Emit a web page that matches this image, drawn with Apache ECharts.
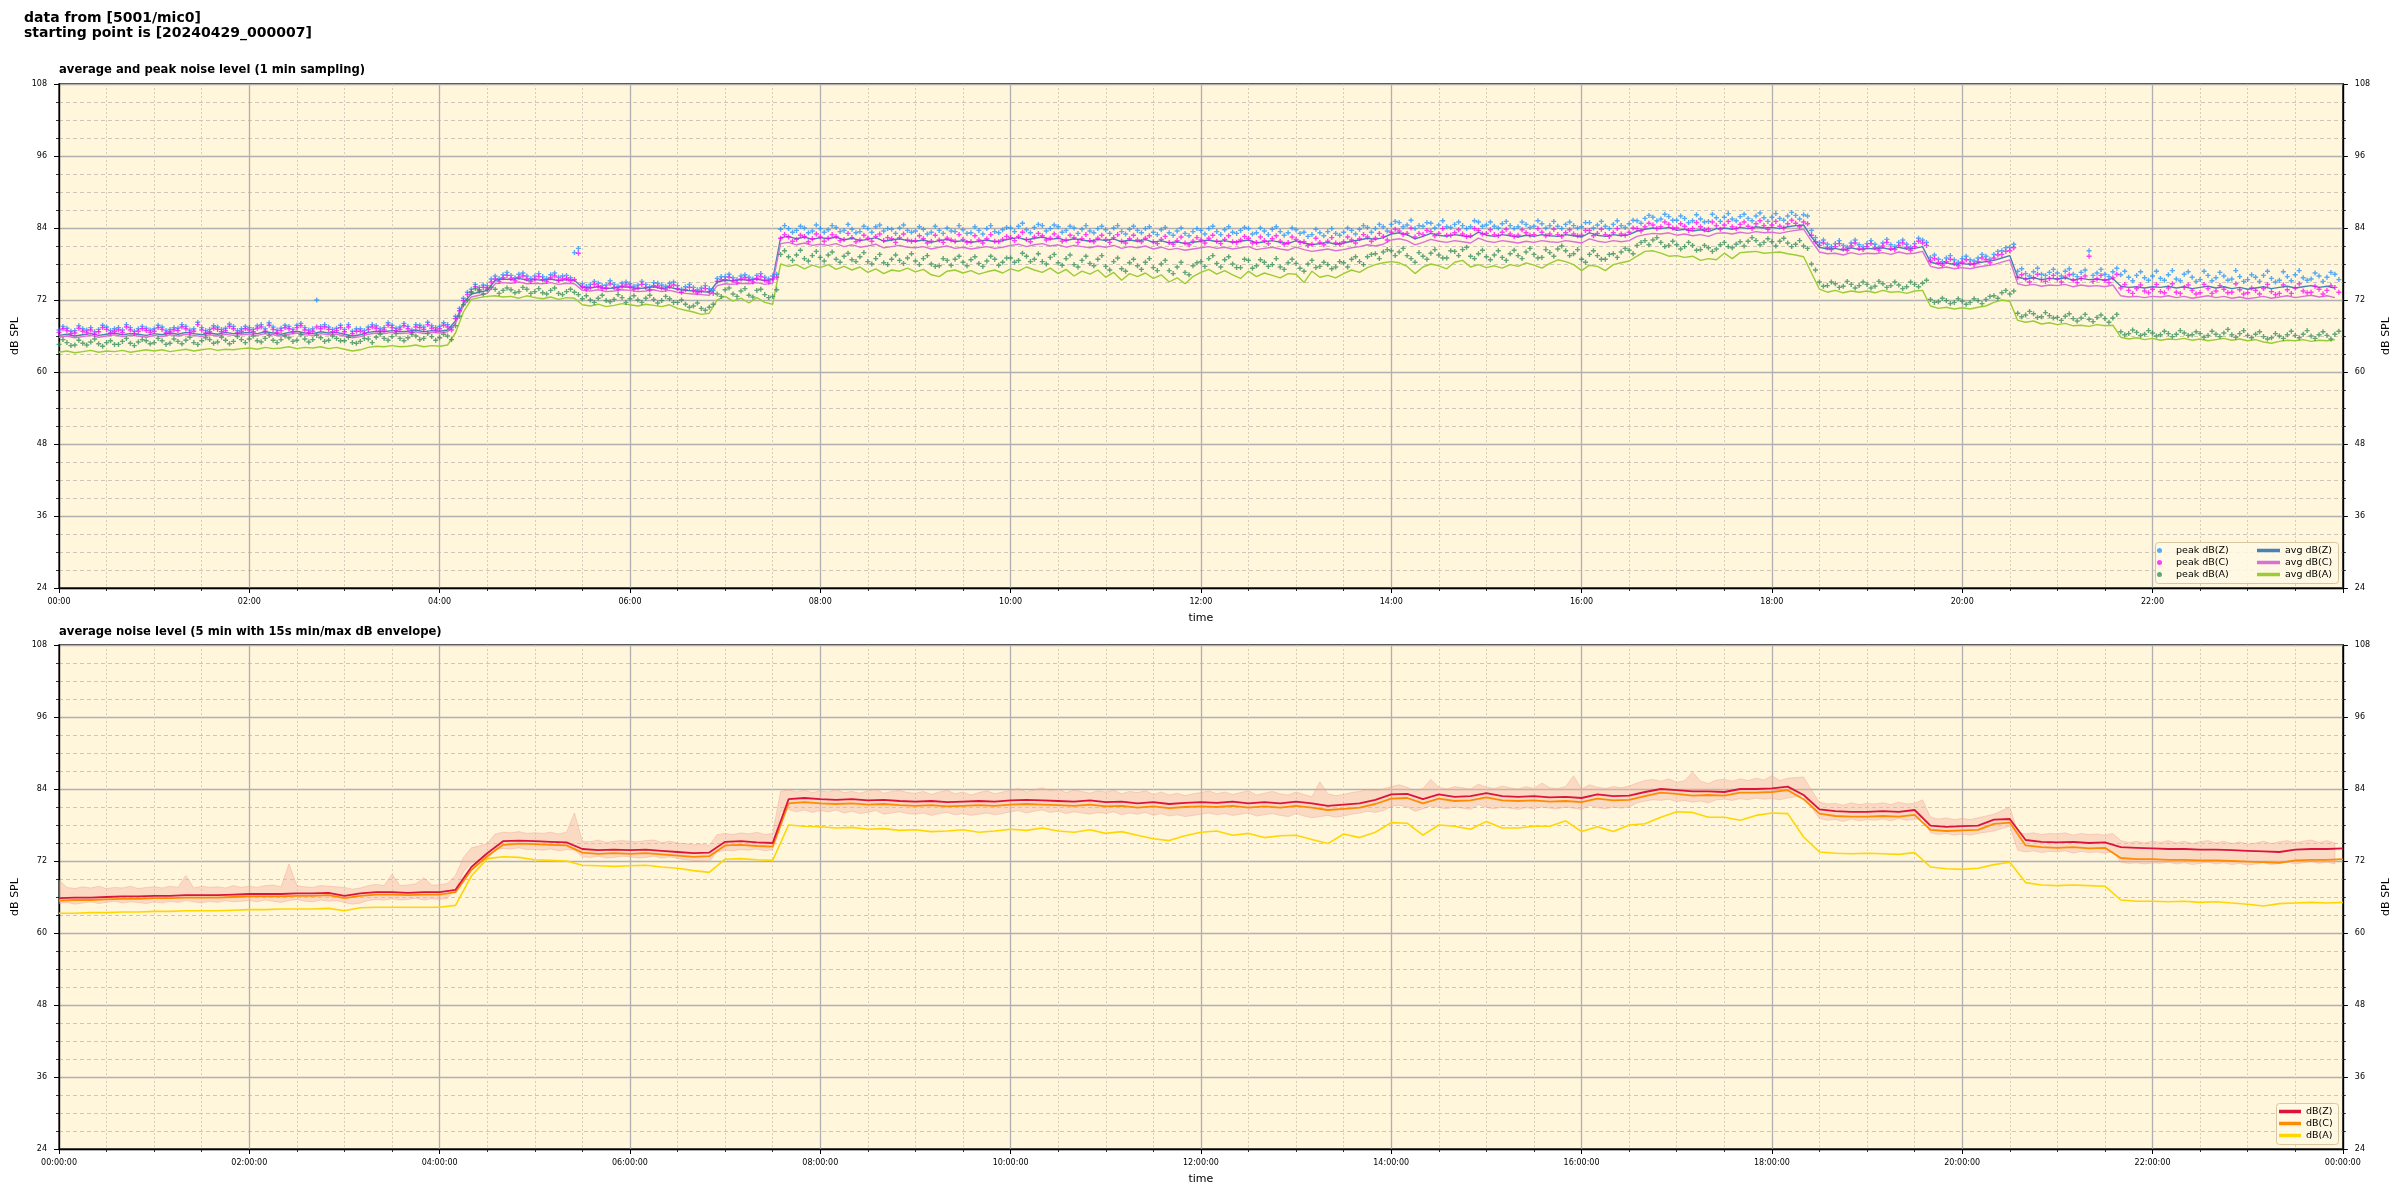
<!DOCTYPE html>
<html><head><meta charset="utf-8">
<script src="https://cdn.jsdelivr.net/npm/echarts/dist/echarts.min.js"></script>
<style>html,body{margin:0;padding:0;background:#fff}#c{width:2400px;height:1200px}</style>
</head><body><div id="c"></div>
<script>
// ---------- top chart: 1-min sampling, read here at 5-min steps (minutes from 00:00) ----------
const avgZ = [66.1,66.3,66.0,66.2,66.4,66.1,66.3,66.5,66.2,66.4,66.3,66.1,
66.4,66.2,66.5,66.3,66.6,66.4,66.2,66.5,66.3,66.6,66.4,66.5,
66.6,66.4,66.7,66.5,66.3,66.6,66.8,66.5,66.4,66.7,66.5,66.6,
66.3,66.0,66.2,66.6,66.8,66.7,66.9,66.7,66.8,67.0,66.7,66.9,
66.8,67.0,68.5,71.5,73.0,73.3,73.6,75.3,75.5,75.4,75.6,75.3,
75.4,75.3,75.5,75.2,75.4,75.3,74.1,74.0,74.2,73.9,74.0,74.2,
74.1,73.9,74.0,74.2,73.9,74.1,73.8,73.6,73.5,73.4,73.3,75.0,
75.3,75.2,75.4,75.3,75.5,75.2,75.4,82.4,82.6,82.2,82.5,82.1,
82.4,82.2,82.5,82.0,82.3,81.9,82.1,82.4,81.8,82.0,82.2,81.9,
81.8,82.0,81.6,81.9,82.1,81.7,81.9,81.6,81.8,82.0,81.7,81.9,
82.2,82.4,82.0,82.3,82.5,82.1,82.3,81.9,82.2,82.0,81.8,82.1,
81.9,82.2,81.7,82.0,81.8,82.1,81.6,81.9,81.5,81.7,81.4,81.6,
81.8,82.0,81.7,81.9,81.6,81.8,82.0,81.5,81.7,81.9,81.6,81.4,
81.9,81.5,81.2,81.4,81.6,81.3,81.5,81.8,82.0,82.3,82.1,82.4,
83.0,83.2,82.9,82.2,82.6,83.1,82.8,82.6,82.9,82.7,82.5,83.3,
82.8,82.6,82.9,82.7,82.5,82.8,82.6,82.9,82.7,82.6,82.9,82.7,
82.5,83.2,82.8,82.6,82.9,82.7,82.9,83.5,83.8,84.0,83.9,84.1,
83.6,83.8,83.5,83.7,83.4,83.9,84.0,83.8,84.1,83.9,84.2,84.0,
84.1,83.9,84.2,84.4,84.5,82.5,80.8,80.5,80.6,80.3,80.7,80.4,
80.6,80.5,80.7,80.4,80.8,80.5,80.6,80.9,78.3,78.0,78.2,77.9,
78.1,77.9,78.2,78.4,78.6,79.0,79.4,75.8,75.5,75.7,75.4,75.6,
75.5,75.7,75.3,75.6,75.4,75.5,75.3,75.6,74.3,74.1,74.2,74.0,
74.2,74.1,74.3,74.0,74.2,73.9,74.1,74.3,74.0,74.2,73.9,74.1,
73.8,74.0,74.2,73.9,74.1,74.3,74.0,74.2,74.4,74.1,74.3,74.0];

const avgC = [65.8,66.0,65.7,65.9,66.1,65.8,66.0,66.2,65.9,66.1,66.0,65.8,
66.1,65.9,66.2,66.0,66.3,66.1,65.9,66.2,66.0,66.3,66.1,66.2,
66.3,66.1,66.4,66.2,66.0,66.3,66.5,66.2,66.1,66.4,66.2,66.3,
66.0,65.7,65.9,66.3,66.5,66.4,66.6,66.4,66.5,66.7,66.4,66.6,
66.5,66.7,68.1,71.1,72.5,72.8,73.1,74.7,74.9,74.8,75.0,74.7,
74.8,74.7,74.9,74.6,74.8,74.7,73.6,73.5,73.7,73.4,73.5,73.7,
73.6,73.4,73.5,73.7,73.4,73.6,73.3,73.1,73.0,72.9,72.8,74.4,
74.7,74.6,74.8,74.7,74.9,74.6,74.8,81.4,81.6,81.2,81.5,81.1,
81.3,81.1,81.4,80.9,81.2,80.8,81.0,81.3,80.7,80.9,81.1,80.8,
80.7,80.9,80.5,80.8,81.0,80.6,80.8,80.5,80.7,80.9,80.6,80.8,
81.1,81.3,80.9,81.2,81.4,81.0,81.2,80.8,81.1,80.9,80.7,81.0,
80.8,81.1,80.6,80.9,80.7,81.0,80.5,80.8,80.4,80.6,80.3,80.5,
80.7,80.9,80.6,80.8,80.5,80.7,80.9,80.4,80.6,80.8,80.5,80.3,
80.8,80.4,80.1,80.3,80.5,80.2,80.4,80.7,80.9,81.2,81.0,81.3,
82.0,82.2,81.9,81.2,81.6,82.1,81.8,81.6,81.9,81.7,81.5,82.3,
81.8,81.6,81.9,81.7,81.5,81.8,81.6,81.9,81.7,81.6,81.9,81.7,
81.5,82.2,81.8,81.6,81.9,81.7,81.9,82.6,82.9,83.1,83.0,83.2,
82.8,83.0,82.7,82.9,82.6,83.1,83.2,83.0,83.3,83.1,83.4,83.2,
83.3,83.1,83.4,83.6,83.8,81.8,80.0,79.7,79.8,79.5,79.9,79.6,
79.8,79.7,79.9,79.6,80.0,79.7,79.8,80.1,77.6,77.3,77.5,77.2,
77.4,77.2,77.5,77.7,77.9,78.3,78.7,74.7,74.4,74.6,74.3,74.5,
74.4,74.6,74.2,74.5,74.3,74.4,74.2,74.5,72.7,72.5,72.6,72.4,
72.6,72.5,72.7,72.4,72.6,72.3,72.5,72.7,72.4,72.6,72.3,72.5,
72.2,72.4,72.6,72.3,72.5,72.7,72.4,72.6,72.8,72.5,72.7,72.4];

const avgA = [63.3,63.5,63.2,63.4,63.6,63.3,63.5,63.4,63.6,63.3,63.5,63.7,
63.5,63.7,63.4,63.6,63.8,63.5,63.7,63.9,63.6,63.8,63.7,63.9,
64.0,63.8,64.1,63.9,64.0,64.2,63.9,64.1,64.0,64.2,63.9,64.1,
63.8,63.5,63.7,64.1,64.3,64.2,64.4,64.2,64.3,64.5,64.2,64.4,
64.3,64.5,66.5,70.0,72.1,72.4,72.6,72.7,72.5,72.6,72.3,72.7,
72.4,72.2,72.5,72.1,72.4,72.3,71.2,71.0,71.3,70.9,71.1,71.4,
71.2,71.0,71.3,71.1,70.9,71.2,70.6,70.3,70.0,69.6,69.8,72.0,
72.6,71.8,72.3,71.5,72.4,71.6,71.3,78.0,77.6,77.9,77.2,77.8,
77.4,77.9,77.1,77.6,77.0,77.5,76.6,77.2,76.4,77.0,76.8,77.3,
76.7,77.1,76.2,75.9,76.8,77.0,76.5,76.9,76.3,76.7,77.0,76.5,
77.2,76.8,77.5,77.0,76.6,77.3,76.4,77.1,76.0,76.8,76.3,77.0,
75.8,76.6,75.3,76.4,75.9,76.5,75.6,76.2,75.0,75.7,74.7,75.9,
76.6,77.1,76.3,76.9,76.2,75.6,76.8,75.9,76.5,76.1,75.7,76.4,
76.3,74.9,76.8,75.8,76.1,75.7,76.4,77.0,76.6,77.4,77.9,78.2,
78.4,78.2,77.6,76.4,77.5,78.0,77.7,77.2,78.3,78.6,77.5,77.9,
77.4,77.7,77.3,77.9,77.6,78.2,77.8,77.3,78.1,78.7,78.4,77.9,
76.9,77.8,77.6,76.9,77.9,78.2,78.5,79.3,80.1,80.2,79.8,79.3,
79.4,79.1,79.3,78.6,78.9,78.7,79.8,78.9,79.9,80.0,80.1,79.8,
79.9,80.0,79.7,79.5,79.2,76.5,73.8,73.3,73.6,73.2,73.5,73.3,
73.5,73.2,73.6,73.3,73.4,73.1,73.5,73.6,71.0,70.6,70.8,70.5,
70.7,70.5,70.8,71.0,71.6,72.0,71.8,68.6,68.3,68.5,68.0,68.2,
67.9,68.1,67.7,67.8,67.6,67.9,67.7,67.8,65.8,65.5,65.7,65.4,
65.6,65.3,65.5,65.4,65.6,65.3,65.5,65.2,65.4,65.6,65.3,65.5,
65.2,65.4,65.0,64.8,65.1,65.3,65.2,65.4,65.1,65.3,65.2,65.4];

// peaks at 5-min steps (first set) ...
const peakZ = [67.0,67.3,66.9,67.2,67.4,67.1,67.5,67.2,67.0,67.4,67.2,67.3,
67.2,67.5,67.1,67.3,67.6,67.2,67.4,67.1,67.5,67.3,67.6,67.2,
67.4,67.7,67.2,67.5,67.3,67.6,67.8,67.4,67.2,67.6,67.5,67.3,
67.1,66.8,67.2,67.5,67.7,67.4,67.8,67.5,67.6,67.9,67.5,67.7,
67.6,67.9,69.3,72.3,73.8,74.1,74.4,76.0,76.2,76.1,76.3,76.0,
76.0,75.9,76.2,75.8,76.1,79.9,74.7,74.6,74.8,74.5,74.6,74.8,
74.7,74.5,74.6,74.9,74.5,74.8,74.4,74.2,74.1,74.0,73.9,75.6,
75.9,75.7,76.0,75.8,76.1,75.8,76.0,83.8,83.9,83.6,84.0,83.5,
83.9,83.7,84.1,83.6,83.8,83.4,83.9,84.2,83.5,83.8,84.0,83.6,
83.5,83.8,83.3,83.6,84.0,83.4,83.7,83.2,83.6,83.9,83.4,83.7,
84.0,84.3,83.7,84.1,84.4,83.9,84.2,83.6,84.0,83.8,83.5,83.9,
83.7,84.0,83.4,83.8,83.6,83.9,83.3,83.7,83.2,83.5,83.1,83.4,
83.6,83.9,83.4,83.7,83.3,83.6,83.9,83.2,83.5,83.8,83.4,83.2,
83.7,83.3,82.9,83.2,83.4,83.1,83.3,83.6,83.8,84.1,83.9,84.2,
84.6,84.9,84.5,83.9,84.3,84.8,84.5,84.2,84.6,84.4,84.2,85.0,
84.5,84.3,84.7,84.4,84.2,84.6,84.3,84.7,84.4,84.3,84.6,84.4,
84.2,84.9,84.5,84.3,84.6,84.4,84.7,85.2,85.6,85.8,85.5,85.9,
85.3,85.6,85.2,85.5,85.1,85.7,85.8,85.5,85.9,85.6,86.0,85.7,
85.8,85.6,86.0,86.1,86.2,83.6,81.6,81.3,81.4,81.1,81.5,81.2,
81.4,81.3,81.5,81.2,81.6,81.3,81.4,82.0,79.1,78.8,79.0,78.7,
78.9,78.7,79.0,79.3,79.6,80.2,80.8,76.8,76.4,76.7,76.3,76.6,
76.5,76.8,76.3,76.6,80.2,76.5,76.3,76.7,76.2,75.8,76.1,75.7,
76.0,75.6,76.2,75.5,76.3,75.8,75.4,76.1,75.7,76.0,75.5,75.9,
75.4,75.8,76.1,75.6,75.3,75.9,76.2,75.7,75.5,76.0,75.8,76.3];

const peakC = [66.6,66.9,66.5,66.8,67.0,66.7,67.1,66.8,66.6,67.0,66.8,66.9,
66.8,67.1,66.7,66.9,67.2,66.8,67.0,66.7,67.1,66.9,67.2,66.8,
67.0,67.3,66.8,67.1,66.9,67.2,67.4,67.0,66.8,67.2,67.1,66.9,
66.7,66.4,66.8,67.1,67.3,67.0,67.4,67.1,67.2,67.5,67.1,67.3,
67.2,67.5,68.9,71.9,73.4,73.7,74.0,75.5,75.7,75.6,75.8,75.5,
75.5,75.4,75.7,75.3,75.6,75.4,74.2,74.1,74.3,74.0,74.1,74.3,
74.2,74.0,74.1,74.4,74.0,74.3,73.9,73.7,73.6,73.5,73.4,75.1,
75.4,75.2,75.5,75.3,75.6,75.3,75.5,82.3,82.5,82.1,82.6,82.2,
82.5,82.3,82.6,82.1,82.4,82.0,82.3,82.6,81.9,82.2,82.4,82.0,
81.9,82.2,81.8,82.0,82.3,81.8,82.1,81.7,82.0,82.2,81.8,82.1,
82.4,82.6,82.1,82.5,82.7,82.3,82.5,82.0,82.4,82.2,81.9,82.3,
82.1,82.4,81.8,82.2,82.0,82.3,81.7,82.1,81.6,81.9,81.5,81.8,
82.0,82.3,81.8,82.1,81.7,82.0,82.3,81.6,81.9,82.2,81.8,81.6,
82.1,81.7,81.3,81.6,81.8,81.5,81.7,82.0,82.2,82.5,82.3,82.6,
83.3,83.5,83.1,82.5,82.9,83.4,83.1,82.8,83.2,83.0,82.7,83.6,
83.1,82.9,83.3,83.0,82.8,83.2,82.9,83.3,83.0,82.9,83.2,83.0,
82.8,83.6,83.1,82.9,83.2,83.0,83.3,83.9,84.2,84.5,84.2,84.6,
84.0,84.3,83.9,84.2,83.8,84.4,84.5,84.2,84.6,84.3,84.7,84.4,
84.5,84.3,84.7,84.8,85.0,82.8,81.1,80.7,80.9,80.5,81.0,80.6,
80.9,80.7,81.0,80.6,81.1,80.8,80.9,81.5,78.5,78.2,78.4,78.1,
78.3,78.1,78.4,78.7,79.0,79.6,80.2,75.8,75.5,75.7,75.4,75.6,
75.5,75.8,75.3,75.6,79.3,75.5,75.3,75.7,74.0,73.6,73.9,73.5,
73.8,73.4,74.0,73.3,74.1,73.6,73.2,73.9,73.5,73.8,73.3,73.7,
73.2,73.6,73.9,73.4,73.1,73.7,74.0,73.5,73.3,73.8,73.6,74.1];

const peakA = [64.6,64.9,64.5,64.8,65.0,64.7,64.9,64.6,65.1,64.8,65.0,65.2,
64.9,65.2,64.8,65.1,65.3,64.9,65.2,65.4,65.0,65.3,65.1,65.4,
65.5,65.2,65.6,65.3,65.4,65.7,65.3,65.5,65.4,65.7,65.3,65.6,
65.2,64.9,65.1,65.5,65.8,65.6,65.9,65.6,65.7,66.0,65.6,65.9,
65.7,66.0,67.7,71.2,73.2,73.5,73.7,73.8,73.6,73.7,73.4,73.8,
73.4,73.2,73.6,73.1,73.4,73.3,72.2,72.0,72.3,71.9,72.1,72.4,
72.2,72.0,72.3,72.1,71.9,72.2,71.6,71.3,71.0,70.6,70.8,73.0,
73.7,73.0,73.5,72.8,73.6,72.9,72.6,79.6,79.2,79.5,78.9,79.4,
79.1,79.5,78.8,79.3,78.7,79.2,78.4,78.9,78.2,78.8,78.6,79.0,
78.5,78.9,78.0,77.7,78.6,78.8,78.3,78.7,78.1,78.5,78.8,78.3,
79.0,78.6,79.3,78.8,78.4,79.1,78.2,78.9,77.9,78.6,78.1,78.8,
77.6,78.4,77.2,78.2,77.7,78.3,77.4,78.0,76.9,77.5,76.6,77.7,
78.4,78.9,78.1,78.7,78.0,77.4,78.6,77.7,78.3,77.9,77.5,78.2,
78.1,76.8,78.6,77.6,77.9,77.5,78.2,78.8,78.4,79.2,79.7,80.0,
80.2,80.0,79.4,78.3,79.3,79.8,79.5,79.0,80.1,80.4,79.3,79.7,
79.2,79.5,79.1,79.7,79.4,80.0,79.6,79.1,79.9,80.5,80.2,79.7,
78.8,79.6,79.4,78.8,79.7,80.0,80.3,81.1,81.9,82.0,81.6,81.1,
81.2,80.9,81.1,80.4,80.7,80.5,81.6,80.7,81.7,81.8,81.9,81.6,
81.7,81.8,81.5,81.3,81.0,78.0,75.0,74.4,74.7,74.3,74.6,74.4,
74.6,74.3,74.7,74.4,74.5,74.2,74.6,74.8,72.1,71.7,71.9,71.6,
71.8,71.6,71.9,72.1,72.7,73.2,73.0,69.8,69.5,69.7,69.2,69.4,
69.1,69.3,68.9,69.0,68.8,69.1,68.9,69.0,66.7,66.4,66.6,66.3,
66.5,66.2,66.4,66.3,66.5,66.2,66.4,66.1,66.3,66.5,66.2,66.4,
66.1,66.3,65.9,65.7,66.0,66.2,66.1,66.3,66.0,66.2,66.1,66.3];

// ... and a second set read half-way between (t + 2.5 min)
const peakZb = [67.6,66.8,67.7,67.0,66.7,67.8,66.9,67.4,67.9,66.8,67.6,67.0,
67.8,66.9,67.4,67.9,67.0,68.3,66.9,67.7,67.1,68.0,66.9,67.6,
67.1,67.9,68.2,67.0,67.8,67.1,68.1,67.0,72.0,67.9,67.1,67.8,
67.9,67.2,66.9,67.9,67.2,68.2,67.3,68.1,67.0,67.8,68.3,67.4,
68.2,67.4,70.6,73.3,74.6,74.5,75.5,75.6,76.6,75.7,76.5,75.6,
76.4,75.6,76.5,76.0,75.7,80.6,74.3,75.1,74.4,75.2,74.3,75.0,
74.3,75.1,74.2,74.8,74.3,75.0,73.8,74.6,73.7,74.4,73.6,75.9,
76.3,75.4,76.2,75.5,76.4,75.5,76.3,84.4,83.3,84.3,83.2,84.5,
83.3,84.4,83.4,84.6,83.2,84.3,83.3,84.5,83.9,83.1,84.5,83.3,
84.2,83.0,84.3,83.1,83.5,84.4,83.1,84.2,83.0,84.4,83.2,84.1,
83.4,84.8,83.2,84.6,83.5,84.5,83.3,84.3,83.1,84.4,83.2,84.3,
83.1,84.4,83.0,84.3,83.2,84.2,82.9,84.1,82.8,84.0,82.7,83.9,
83.0,84.3,82.9,84.2,83.1,84.1,83.0,84.0,82.9,84.2,82.8,84.0,
83.1,82.6,83.8,82.7,83.9,82.8,84.0,83.0,84.4,83.3,84.6,83.5,
85.1,84.2,85.3,84.4,84.9,84.0,85.2,84.1,85.0,83.9,85.2,84.3,
85.0,84.0,85.1,83.9,85.0,84.1,85.2,84.0,85.1,83.9,85.0,84.0,
84.9,84.0,85.1,83.9,85.2,84.1,85.3,84.8,86.1,85.2,86.3,85.3,
86.0,84.9,86.2,85.0,86.3,85.1,86.4,85.2,86.3,85.2,86.5,85.1,
86.4,85.3,86.6,85.5,86.0,82.4,82.0,80.9,81.9,80.8,82.0,80.9,
81.9,80.8,82.1,80.9,82.0,80.8,82.3,81.6,79.5,78.4,79.4,78.3,
79.3,78.5,79.6,78.8,80.1,80.7,81.3,77.2,76.0,77.3,76.1,77.1,
76.0,77.2,75.9,77.0,76.1,77.1,75.9,77.3,76.8,75.2,76.7,75.3,
76.8,75.3,76.9,75.2,76.7,75.1,76.8,75.2,76.6,75.3,76.9,75.1,
76.2,75.1,76.8,75.0,76.7,75.2,76.9,75.3,76.5,75.1,76.6,75.4];

const peakCb = [67.2,66.4,67.3,66.6,66.3,67.4,66.5,67.0,67.5,66.4,67.2,66.6,
67.4,66.5,67.0,67.5,66.6,67.9,66.5,67.3,66.7,67.6,66.5,67.2,
66.7,67.5,67.8,66.6,67.4,66.7,67.7,66.6,67.5,67.5,66.7,67.4,
67.5,66.8,66.5,67.5,66.8,67.8,66.9,67.7,66.6,67.4,67.9,67.0,
67.8,67.0,70.2,72.9,74.2,74.1,75.0,75.1,76.1,75.2,76.0,75.1,
75.9,75.1,76.0,75.5,75.2,79.8,73.8,74.6,73.9,74.7,73.8,74.5,
73.8,74.6,73.7,74.3,73.8,74.5,73.3,74.1,73.2,73.9,73.1,75.4,
75.8,74.9,75.7,75.0,75.9,75.0,75.8,82.9,81.8,82.8,81.7,83.0,
81.8,82.9,81.9,83.1,81.7,82.8,81.8,83.0,82.4,81.6,83.0,81.8,
82.7,81.5,82.8,81.6,82.0,82.9,81.6,82.7,81.5,82.9,81.7,82.6,
81.9,83.3,81.7,83.1,82.0,83.0,81.8,82.8,81.6,82.9,81.7,82.8,
81.6,82.9,81.5,82.8,81.7,82.7,81.4,82.6,81.3,82.5,81.2,82.4,
81.5,82.8,81.4,82.7,81.6,82.6,81.5,82.5,81.4,82.7,81.3,82.5,
81.6,81.1,82.3,81.2,82.4,81.3,82.5,81.5,82.9,81.8,83.1,82.0,
83.8,82.9,84.0,83.1,83.6,82.7,83.9,82.8,83.7,82.6,83.9,83.0,
83.7,82.7,83.8,82.6,83.7,82.8,83.9,82.7,83.8,82.6,83.7,82.7,
83.6,82.7,83.8,82.6,83.9,82.8,84.0,83.5,84.8,83.9,85.0,84.0,
84.7,83.6,84.9,83.7,85.0,83.8,85.1,83.9,85.0,83.9,85.2,83.8,
85.1,84.0,85.3,84.2,84.7,81.7,81.5,80.4,81.4,80.3,81.5,80.4,
81.4,80.3,81.6,80.4,81.5,80.3,81.8,81.1,78.9,77.8,78.8,77.7,
78.7,77.9,79.0,78.2,79.5,80.1,80.7,76.2,75.0,76.3,75.1,76.1,
75.0,76.2,74.9,76.0,75.1,76.1,74.9,76.3,74.6,73.1,74.5,73.2,
74.6,73.2,74.7,73.1,74.5,73.0,74.6,73.1,74.4,73.2,74.7,73.0,
74.0,73.0,74.6,72.9,74.5,73.1,74.7,73.2,74.3,73.0,74.4,73.3];

const peakAb = [65.4,64.4,65.3,64.5,65.5,64.3,65.2,64.6,65.6,64.4,65.4,64.7,
65.6,64.6,65.5,64.7,65.8,64.6,65.7,64.8,65.8,64.7,65.9,64.9,
66.0,65.0,66.1,64.9,66.0,65.1,66.2,65.0,66.1,65.1,66.0,65.2,
65.8,64.8,65.6,64.9,66.3,65.3,66.4,65.2,66.3,65.4,66.4,65.3,
66.3,65.4,69.3,72.0,73.9,73.0,74.1,73.1,74.0,73.2,74.1,73.1,
73.9,73.0,74.0,72.9,73.8,72.9,72.7,71.6,72.8,71.7,72.9,71.6,
72.7,71.6,72.8,71.5,72.6,71.6,72.0,70.8,71.5,70.3,71.3,72.6,
74.0,72.6,73.9,72.5,73.8,72.4,73.7,80.2,78.6,80.3,78.5,80.1,
78.5,80.0,78.3,79.8,78.4,79.9,78.0,79.6,77.9,79.5,78.1,79.7,
77.9,79.4,77.6,78.9,77.8,79.3,77.7,79.2,77.6,79.3,77.8,79.0,
78.3,79.8,78.4,79.7,78.0,79.6,77.8,79.5,77.5,79.3,77.7,79.4,
77.0,79.0,76.8,78.8,77.1,78.9,76.9,78.6,76.4,78.3,76.2,78.2,
77.6,79.4,77.5,79.2,77.4,78.8,77.3,78.7,77.6,78.9,77.1,78.8,
77.3,78.0,77.4,78.3,77.2,78.4,77.5,79.2,77.9,79.6,78.9,80.4,
79.4,80.6,78.9,79.9,78.8,80.4,79.0,80.2,79.4,80.8,78.9,80.3,
78.7,80.2,78.6,80.3,78.9,80.6,79.0,80.4,79.3,81.0,79.4,80.4,
78.3,80.2,78.8,79.6,79.1,80.6,79.7,81.6,81.2,82.4,80.9,81.8,
80.5,81.6,80.3,81.1,80.1,81.2,80.9,81.3,81.0,82.4,81.2,82.2,
81.0,82.3,80.9,81.9,80.6,77.0,74.3,75.0,74.1,75.1,74.0,75.0,
74.0,75.1,74.1,75.0,73.9,75.0,74.2,75.3,71.6,72.3,71.4,72.2,
71.3,72.2,71.4,72.6,72.3,73.6,73.5,69.2,70.1,69.1,69.9,69.0,
68.6,69.7,68.5,69.6,68.4,69.5,68.3,69.6,66.2,67.0,66.1,66.9,
66.0,66.8,65.9,66.9,66.1,66.7,65.8,66.8,65.9,67.1,65.8,66.9,
65.7,66.7,65.5,66.4,65.6,66.8,65.7,66.9,65.6,66.7,65.5,66.8];

// ---------- bottom chart: 5-min averages read at 10-min steps ----------
const botZ = [65.8,65.9,65.9,66.0,66.1,66.1,66.2,66.2,66.3,66.3,66.3,66.4,
66.5,66.5,66.5,66.6,66.6,66.7,66.2,66.6,66.8,66.8,66.7,66.8,
66.8,67.2,71.0,73.3,75.3,75.4,75.3,75.2,75.1,74.0,73.8,73.9,
73.8,73.9,73.7,73.5,73.3,73.4,75.2,75.3,75.1,75.0,82.3,82.5,
82.3,82.2,82.3,82.1,82.2,82.0,81.9,82.0,81.8,81.9,82.0,81.9,
82.1,82.2,82.1,82.0,81.9,82.1,81.8,81.9,81.6,81.8,81.5,81.7,
81.8,81.7,81.9,81.6,81.8,81.6,81.9,81.6,81.2,81.4,81.6,82.2,
83.1,83.2,82.3,83.1,82.7,82.8,83.3,82.8,82.7,82.8,82.6,82.7,
82.5,83.1,82.8,82.9,83.5,84.0,83.8,83.6,83.6,83.5,84.0,84.0,
84.1,84.4,83.0,80.6,80.3,80.2,80.2,80.3,80.2,80.5,77.9,77.7,
77.8,77.9,78.9,79.0,75.5,75.2,75.1,75.2,75.0,75.1,74.3,74.2,
74.1,74.0,74.0,73.9,73.9,73.8,73.7,73.6,73.5,73.9,74.0,74.0,
74.1];
const botC = [65.4,65.5,65.5,65.6,65.7,65.7,65.8,65.8,65.9,65.9,65.9,66.0,
66.1,66.1,66.1,66.2,66.2,66.3,65.8,66.2,66.4,66.4,66.3,66.4,
66.4,66.8,70.5,72.8,74.7,74.9,74.8,74.7,74.6,73.4,73.2,73.3,
73.2,73.3,73.1,72.9,72.7,72.8,74.6,74.7,74.5,74.4,81.6,81.8,
81.6,81.5,81.6,81.4,81.5,81.3,81.2,81.3,81.1,81.2,81.3,81.2,
81.4,81.5,81.4,81.3,81.2,81.4,81.1,81.2,80.9,81.1,80.8,81.0,
81.1,81.0,81.2,80.9,81.1,80.9,81.2,80.9,80.5,80.7,80.9,81.5,
82.4,82.5,81.6,82.4,82.0,82.1,82.6,82.1,82.0,82.1,81.9,82.0,
81.8,82.4,82.1,82.2,82.8,83.4,83.2,82.9,83.0,82.9,83.4,83.4,
83.5,83.8,82.3,79.9,79.5,79.4,79.4,79.5,79.4,79.7,77.2,77.0,
77.1,77.2,78.2,78.4,74.6,74.3,74.2,74.3,74.1,74.2,72.5,72.3,
72.3,72.2,72.2,72.1,72.1,72.0,71.9,71.8,71.7,72.1,72.2,72.2,
72.3];
const botA = [63.3,63.3,63.4,63.4,63.5,63.5,63.6,63.6,63.7,63.7,63.7,63.8,
63.9,63.9,64.0,64.0,64.0,64.1,63.7,64.2,64.3,64.3,64.3,64.3,
64.3,64.6,69.5,72.4,72.7,72.6,72.2,72.1,72.0,71.3,71.2,71.1,
71.2,71.3,71.0,70.8,70.4,70.1,72.3,72.4,72.2,72.1,78.0,77.8,
77.7,77.5,77.6,77.3,77.4,77.1,77.2,76.9,77.0,77.2,76.8,77.0,
77.3,77.1,77.5,77.0,76.8,77.2,76.6,76.9,76.3,75.7,75.4,76.2,
76.8,77.0,76.3,76.6,75.9,76.2,76.3,75.6,74.9,76.5,75.9,76.8,
78.4,78.3,76.3,78.0,77.8,77.3,78.6,77.5,77.5,77.8,77.8,78.7,
76.9,77.7,76.9,78.0,78.2,79.3,80.2,80.1,79.3,79.3,78.8,79.6,
80.0,79.9,76.0,73.5,73.3,73.2,73.3,73.2,73.1,73.4,71.0,70.7,
70.6,70.8,71.4,71.8,68.4,68.0,67.9,68.0,67.9,67.8,65.5,65.3,
65.3,65.2,65.3,65.1,65.2,65.0,64.8,64.5,64.9,65.0,65.1,65.0,
65.1];

// 15 s min/max envelope, read at 5-min steps
const envHi = [68.8,67.6,67.4,67.7,67.5,67.8,67.4,67.6,67.5,67.8,67.4,67.6,
67.7,67.5,67.8,67.6,69.6,67.5,67.8,67.6,67.7,67.5,67.9,67.6,
67.8,67.6,67.9,68.0,67.7,71.5,67.9,67.7,67.6,67.9,67.8,67.7,
67.6,67.3,67.5,67.9,68.1,67.9,69.8,67.9,68.0,68.2,69.2,68.0,
68.0,68.3,69.6,72.6,74.2,74.5,74.9,76.5,76.8,76.7,76.9,76.6,
76.7,76.6,76.8,76.5,76.8,80.0,75.3,75.2,75.5,75.1,75.3,75.4,
75.3,75.2,75.4,75.5,75.1,75.3,75.0,74.9,74.7,74.8,74.6,76.4,
76.6,76.4,76.7,76.5,76.8,76.4,76.6,83.6,83.9,83.5,83.8,83.4,
83.7,83.5,83.9,83.4,83.6,83.3,83.7,84.0,83.3,83.6,83.8,83.4,
83.3,83.6,83.1,83.5,83.8,83.2,83.5,83.0,83.4,83.7,83.2,83.5,
83.8,84.1,83.5,83.9,84.2,83.7,84.0,83.4,83.8,83.6,83.3,83.7,
83.5,83.8,83.2,83.6,83.4,83.7,83.1,83.5,83.0,83.3,82.9,83.2,
83.4,83.7,83.2,83.5,83.1,83.4,83.7,83.0,83.3,83.6,83.2,83.0,
83.5,83.1,82.7,85.2,83.2,82.9,83.1,83.4,83.6,83.9,83.7,84.0,
84.4,84.7,84.3,83.6,84.1,85.6,84.3,84.0,84.4,84.2,84.0,84.8,
84.3,84.1,84.5,84.2,84.0,84.4,84.1,85.0,84.2,84.1,84.4,86.2,
84.0,84.7,84.3,84.1,84.4,84.2,84.5,85.0,85.4,85.6,85.3,85.7,
85.1,85.4,86.8,85.3,84.9,85.5,85.6,85.3,85.7,85.4,85.8,85.5,
86.2,85.4,85.8,85.9,86.0,83.8,81.8,81.5,81.6,81.3,81.7,81.4,
81.6,81.5,81.7,81.4,81.8,81.5,81.6,82.2,79.3,79.0,79.2,78.9,
79.1,78.9,79.2,79.5,79.8,80.4,81.0,76.8,76.5,76.7,76.4,76.6,
76.5,76.7,76.3,76.6,76.4,76.5,76.3,76.6,75.4,75.1,75.3,75.0,
75.3,75.1,75.4,75.0,75.3,74.9,75.2,75.4,75.0,75.3,74.9,75.2,
74.8,75.0,75.3,74.9,75.2,75.4,75.0,75.3,75.5,75.1,75.4,75.0];
const envLo = [64.9,65.1,64.8,65.0,65.2,64.9,65.1,65.3,65.0,65.2,65.1,64.9,
65.2,65.0,65.3,65.1,65.4,65.2,65.0,65.3,65.1,65.4,65.2,65.3,
65.4,65.2,65.5,65.3,65.1,65.4,65.6,65.3,65.2,65.5,65.3,65.4,
65.1,64.8,65.0,65.4,65.6,65.5,65.7,65.5,65.6,65.8,65.5,65.7,
65.6,65.8,67.2,70.2,71.7,72.0,72.3,73.9,74.1,74.0,74.2,73.9,
73.9,73.8,74.0,73.7,73.9,73.8,72.7,72.6,72.8,72.5,72.6,72.8,
72.7,72.5,72.6,72.8,72.5,72.7,72.4,72.2,72.1,72.0,71.9,73.5,
73.8,73.7,73.9,73.8,74.0,73.7,73.9,80.3,80.6,80.2,80.5,80.1,
80.4,80.2,80.5,80.0,80.3,79.9,80.1,80.4,79.8,80.0,80.2,79.9,
79.8,80.0,79.6,79.9,80.1,79.7,79.9,79.6,79.8,80.0,79.7,79.9,
80.2,80.4,80.0,80.3,80.5,80.1,80.3,79.9,80.2,80.0,79.8,80.1,
79.9,80.2,79.7,80.0,79.8,80.1,79.6,79.9,79.5,79.7,79.4,79.6,
79.8,80.0,79.7,79.9,79.6,79.8,80.0,79.5,79.7,79.9,79.6,79.4,
79.9,79.5,79.2,79.4,79.6,79.3,79.5,79.8,80.0,80.3,80.1,80.4,
81.1,81.3,81.0,80.3,80.7,81.2,80.9,80.7,81.0,80.8,80.6,81.4,
80.9,80.7,81.0,80.8,80.6,80.9,80.7,81.0,80.8,80.7,81.0,80.8,
80.6,81.3,80.9,80.7,81.0,80.8,81.0,81.7,82.0,82.2,82.1,82.3,
81.9,82.1,81.8,82.0,81.7,82.2,82.3,82.1,82.4,82.2,82.5,82.3,
82.4,82.2,82.5,82.7,82.9,80.9,79.1,78.8,78.9,78.6,79.0,78.7,
78.9,78.8,79.0,78.7,79.1,78.8,78.9,79.2,76.7,76.4,76.6,76.3,
76.5,76.3,76.6,76.8,77.0,77.4,77.8,73.8,73.5,73.7,73.4,73.6,
73.5,73.7,73.3,73.6,73.4,73.5,73.3,73.6,71.8,71.6,71.7,71.5,
71.7,71.6,71.8,71.5,71.7,71.4,71.6,71.8,71.5,71.7,71.4,71.6,
71.3,71.5,71.7,71.4,71.6,71.8,71.5,71.7,71.9,71.6,71.8,71.5];

const yTicks = [24, 36, 48, 60, 72, 84, 96, 108];

// ---------- build ----------
const t5 = avgZ.map((_, i) => i * 5);
const t5b = avgZ.map((_, i) => i * 5 + 2.5);
const t10 = botZ.map((_, i) => i * 10);
const pairs = (ts, vs) => ts.map((t, i) => [t, vs[i]]);
const pad = n => String(n).padStart(2, '0');
const FONT = 'DejaVu Sans';

function xAxis(grid, withSec) {
  return {
    type: 'value', gridIndex: grid, min: 0, max: 1440, interval: 120,
    name: 'time', nameLocation: 'middle', nameGap: 25,
    nameTextStyle: { fontFamily: FONT, fontSize: 11, color: '#000' },
    axisLine: { show: true, onZero: false, lineStyle: { color: '#000', width: 1.3 } },
    axisTick: { show: true, length: 5, lineStyle: { color: '#000', width: 1 } },
    minorTick: { show: true, splitNumber: 4, length: 3, lineStyle: { color: '#000', width: 0.8 } },
    splitLine: { show: true, lineStyle: { color: '#b0b0b0', width: 1.3 } },
    minorSplitLine: { show: true, lineStyle: { color: '#d2cab6', width: 0.9, type: [2, 2] } },
    axisLabel: {
      fontFamily: FONT, fontSize: 8, color: '#000', margin: 10, showMaxLabel: withSec,
      formatter: v => {
        if (!withSec && v >= 1440) return '';
        const h = Math.floor(v / 60) % 24, m = v % 60;
        return withSec ? pad(h) + ':' + pad(m) + ':00' : pad(h) + ':' + pad(m);
      }
    }
  };
}
function yAxis(grid, pos) {
  const left = pos === 'left';
  return {
    type: 'value', gridIndex: grid, position: pos, min: yTicks[0], max: yTicks[yTicks.length - 1],
    interval: yTicks[1] - yTicks[0],
    name: 'dB SPL', nameLocation: 'middle', nameRotate: 90, nameGap: left ? 33 : 33,
    nameTextStyle: { fontFamily: FONT, fontSize: 11, color: '#000' },
    axisLine: { show: true, lineStyle: { color: '#000', width: 1.3 } },
    axisTick: { show: true, length: 5, lineStyle: { color: '#000', width: 1 } },
    minorTick: { show: true, splitNumber: 4, length: 3, lineStyle: { color: '#000', width: 0.8 } },
    splitLine: { show: left, lineStyle: { color: '#b0b0b0', width: 1.3 } },
    minorSplitLine: { show: left, lineStyle: { color: '#c8c2b4', width: 0.9, type: [4, 3] } },
    axisLabel: { fontFamily: FONT, fontSize: 8, color: '#000', margin: 12 }
  };
}
const plus = 'path://M1.8,0H3.2V1.8H5V3.2H3.2V5H1.8V3.2H0V1.8H1.8Z';
function lineS(name, data, color, width, xi, yi, z) {
  return { type: 'line', name, data, xAxisIndex: xi, yAxisIndex: yi, showSymbol: false, symbol: 'none',
    lineStyle: { color, width }, itemStyle: { color }, z: z || 2, animation: false, silent: true };
}
function peakS(name, data, color) {
  return { type: 'scatter', name, data, xAxisIndex: 0, yAxisIndex: 0, symbol: plus, symbolSize: 5,
    itemStyle: { color, opacity: 0.75 }, z: 3, animation: false, silent: true };
}
const envelope = {
  type: 'custom', name: 'envelope', xAxisIndex: 1, yAxisIndex: 2, z: 1, silent: true, animation: false, clip: true,
  data: t5.map((t, i) => [t, envLo[i], envHi[i]]),
  renderItem(params, api) {
    if (params.dataIndex !== 0) return { type: 'group', children: [] };
    const pts = [];
    for (let i = 0; i < t5.length; i++) pts.push(api.coord([t5[i], envHi[i]]));
    for (let i = t5.length - 1; i >= 0; i--) pts.push(api.coord([t5[i], envLo[i]]));
    return { type: 'polygon', shape: { points: pts },
      style: { fill: 'rgba(246,178,160,0.42)', stroke: 'rgba(238,150,135,0.45)', lineWidth: 0.8 } };
  }
};
const legendText = { fontFamily: FONT, fontSize: 9.5, color: '#000', lineHeight: 11 };
const titleFont = (s) => ({ fontFamily: FONT, fontSize: s, fontWeight: 'bold', color: '#000' });
const option = {
  backgroundColor: '#ffffff',
  animation: false,
  textStyle: { fontFamily: FONT },
  title: [
    { text: 'data from [5001/mic0]\nstarting point is [20240429_000007]', left: 24, top: 11, padding: 0,
      textStyle: Object.assign(titleFont(14), { lineHeight: 15 }) },
    { text: 'average and peak noise level (1 min sampling)', left: 59, top: 64, padding: 0,
      textStyle: titleFont(11.6) },
    { text: 'average noise level (5 min with 15s min/max dB envelope)', left: 59, top: 626, padding: 0,
      textStyle: titleFont(11.6) }
  ],
  grid: [
    { left: 59, top: 84, width: 2284, height: 504, show: true, backgroundColor: '#fff6dc', borderColor: '#000', borderWidth: 1.3 },
    { left: 59, top: 645, width: 2284, height: 504, show: true, backgroundColor: '#fff6dc', borderColor: '#000', borderWidth: 1.3 }
  ],
  xAxis: [xAxis(0, false), xAxis(1, true)],
  yAxis: [yAxis(0, 'left'), yAxis(0, 'right'), yAxis(1, 'left'), yAxis(1, 'right')],
  graphic: [
    { type: 'rect', left: 2155, top: 542, z: 90, silent: true, shape: { width: 183, height: 41, r: 3 },
      style: { fill: 'rgba(255,248,228,0.85)', stroke: '#d9c7a3', lineWidth: 1 } },
    { type: 'rect', left: 2276, top: 1103, z: 90, silent: true, shape: { width: 62, height: 41, r: 3 },
      style: { fill: 'rgba(255,248,228,0.85)', stroke: '#d9c7a3', lineWidth: 1 } }
  ],
  legend: [
    { orient: 'vertical', left: 2157, top: 545, padding: 0, itemGap: 1, itemWidth: 23, itemHeight: 5, z: 100,
      selectedMode: false, textStyle: legendText,
      data: [{ name: 'peak dB(Z)', icon: 'circle' }, { name: 'peak dB(C)', icon: 'circle' }, { name: 'peak dB(A)', icon: 'circle' }] },
    { orient: 'vertical', left: 2257, top: 545, padding: 0, itemGap: 1, itemWidth: 23, itemHeight: 3.5, z: 100,
      selectedMode: false, textStyle: legendText,
      data: [{ name: 'avg dB(Z)', icon: 'rect' }, { name: 'avg dB(C)', icon: 'rect' }, { name: 'avg dB(A)', icon: 'rect' }] },
    { orient: 'vertical', left: 2279, top: 1106, padding: 0, itemGap: 1, itemWidth: 22, itemHeight: 3.5, z: 100,
      selectedMode: false, textStyle: legendText,
      data: [{ name: 'dB(Z)', icon: 'rect' }, { name: 'dB(C)', icon: 'rect' }, { name: 'dB(A)', icon: 'rect' }] }
  ],
  series: [
    lineS('avg dB(Z)', pairs(t5, avgZ), '#4682b4', 1.4, 0, 0),
    lineS('avg dB(C)', pairs(t5, avgC), '#da70d6', 1.4, 0, 0),
    lineS('avg dB(A)', pairs(t5, avgA), '#9acd32', 1.4, 0, 0),
    peakS('peak dB(Z)', pairs(t5, peakZ).concat(pairs(t5b, peakZb)), '#1e90ff'),
    peakS('peak dB(C)', pairs(t5, peakC).concat(pairs(t5b, peakCb)), '#ff00ff'),
    peakS('peak dB(A)', pairs(t5, peakA).concat(pairs(t5b, peakAb)), '#2e8b57'),
    envelope,
    lineS('dB(A)', pairs(t10, botA), '#ffd700', 1.6, 1, 2),
    lineS('dB(C)', pairs(t10, botC), '#ff8c00', 1.8, 1, 2),
    lineS('dB(Z)', pairs(t10, botZ), '#dc143c', 1.8, 1, 2)
  ]
};
const chart = echarts.init(document.getElementById('c'), null, { renderer: 'canvas' });
chart.setOption(option);
</script></body></html>
